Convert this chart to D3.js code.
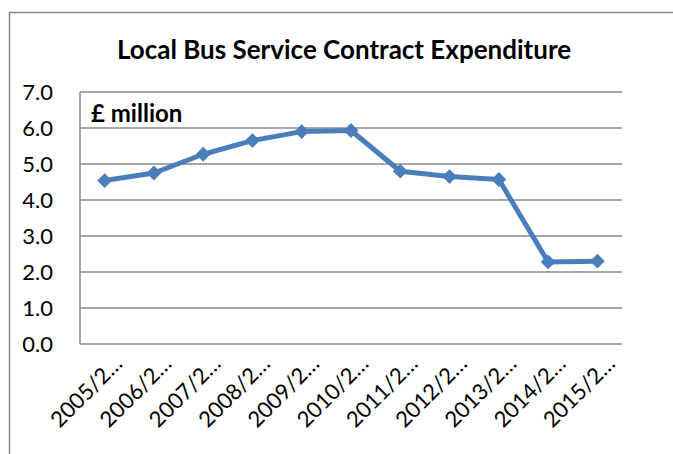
<!DOCTYPE html>
<html>
<head>
<meta charset="utf-8">
<script src="https://cdn.jsdelivr.net/npm/d3@7"></script>
<style>
  body { margin: 0; background: #fff; }
  text { font-family: Lato, "Open Sans", sans-serif; fill: #000; }
</style>
</head>
<body>
<script>
const years = ["2005/2…", "2006/2…", "2007/2…", "2008/2…", "2009/2…", "2010/2…",
  "2011/2…", "2012/2…", "2013/2…", "2014/2…", "2015/2…"];
const spend = [4.54, 4.75, 5.27, 5.65, 5.90, 5.93, 4.80, 4.65, 4.57, 2.28, 2.30];
const yTicks = [0, 1, 2, 3, 4, 5, 6, 7];

const W = 673, H = 454;
let margin = {top: 92, right: 51, bottom: 110, left: 80},
  width = W - margin.left - margin.right,
  height = H - margin.top - margin.bottom;

const svg = d3.select("body")
  .append("svg")
  .attr("width", W)
  .attr("height", H);

// outer chart frame (only top and left edges visible in the crop)
svg.append("path")
  .attr("d", "M9.5," + H + "V12.5H" + W)
  .attr("fill", "none")
  .attr("stroke", "#878787")
  .attr("stroke-width", 1.5);

svg.append("text")
  .attr("x", 344)
  .attr("y", 59)
  .attr("text-anchor", "middle")
  .style("font-size", "26px")
  .style("font-weight", "bold")
  .text("Local Bus Service Contract Expenditure");

const g = svg.append("g")
  .attr("transform", "translate(" + margin.left + "," + margin.top + ")");

let x = d3.scaleBand()
  .domain(years)
  .range([0, width]);

let y = d3.scaleLinear()
  .domain([0, 7])
  .range([height, 0]);

// gridlines
g.append("g")
  .selectAll("line")
  .data(yTicks)
  .join("line")
  .attr("x1", 0)
  .attr("x2", width)
  .attr("y1", d => y(d))
  .attr("y2", d => y(d))
  .attr("stroke", "#888")
  .attr("stroke-width", 1.5);

// left axis line
g.append("line")
  .attr("x1", 0).attr("x2", 0)
  .attr("y1", 0).attr("y2", height)
  .attr("stroke", "#888")
  .attr("stroke-width", 1.5);

// y labels
const yAxis = g.append("g")
  .call(d3.axisLeft(y).tickValues(yTicks).tickFormat(d3.format(".1f")).tickSize(0).tickPadding(27));
yAxis.select(".domain").remove();
yAxis.selectAll("text")
  .style("font-size", "22px")
  .style("font-family", "Lato, sans-serif")
  .attr("dy", "0.36em");

// x labels, rotated
const xAxis = g.append("g")
  .attr("transform", "translate(0," + height + ")")
  .call(d3.axisBottom(x).tickSize(0));
xAxis.select(".domain").remove();
xAxis.selectAll("text")
  .style("font-size", "22px")
  .style("font-family", "Lato, sans-serif")
  .attr("text-anchor", "end")
  .attr("dy", 0)
  .attr("y", 0)
  .attr("transform", "translate(19,21) rotate(-45)");

g.append("text")
  .attr("x", 11)
  .attr("y", 30)
  .style("font-size", "24px")
  .style("font-weight", "bold")
  .text("£ million");

const cx = (d, i) => x(years[i]) + x.bandwidth() / 2;

g.append("path")
  .datum(spend)
  .attr("fill", "none")
  .attr("stroke", "#4a7ebb")
  .attr("stroke-width", 5)
  .attr("stroke-linejoin", "round")
  .attr("d", d3.line()
    .x(cx)
    .y(d => y(d))
  );

g.append("g")
  .selectAll("path")
  .data(spend)
  .join("path")
  .attr("d", d3.symbol(d3.symbolDiamond2, 140))
  .attr("transform", (d, i) => "translate(" + cx(d, i) + "," + y(d) + ")")
  .attr("fill", "#4a7ebb");
</script>
</body>
</html>
